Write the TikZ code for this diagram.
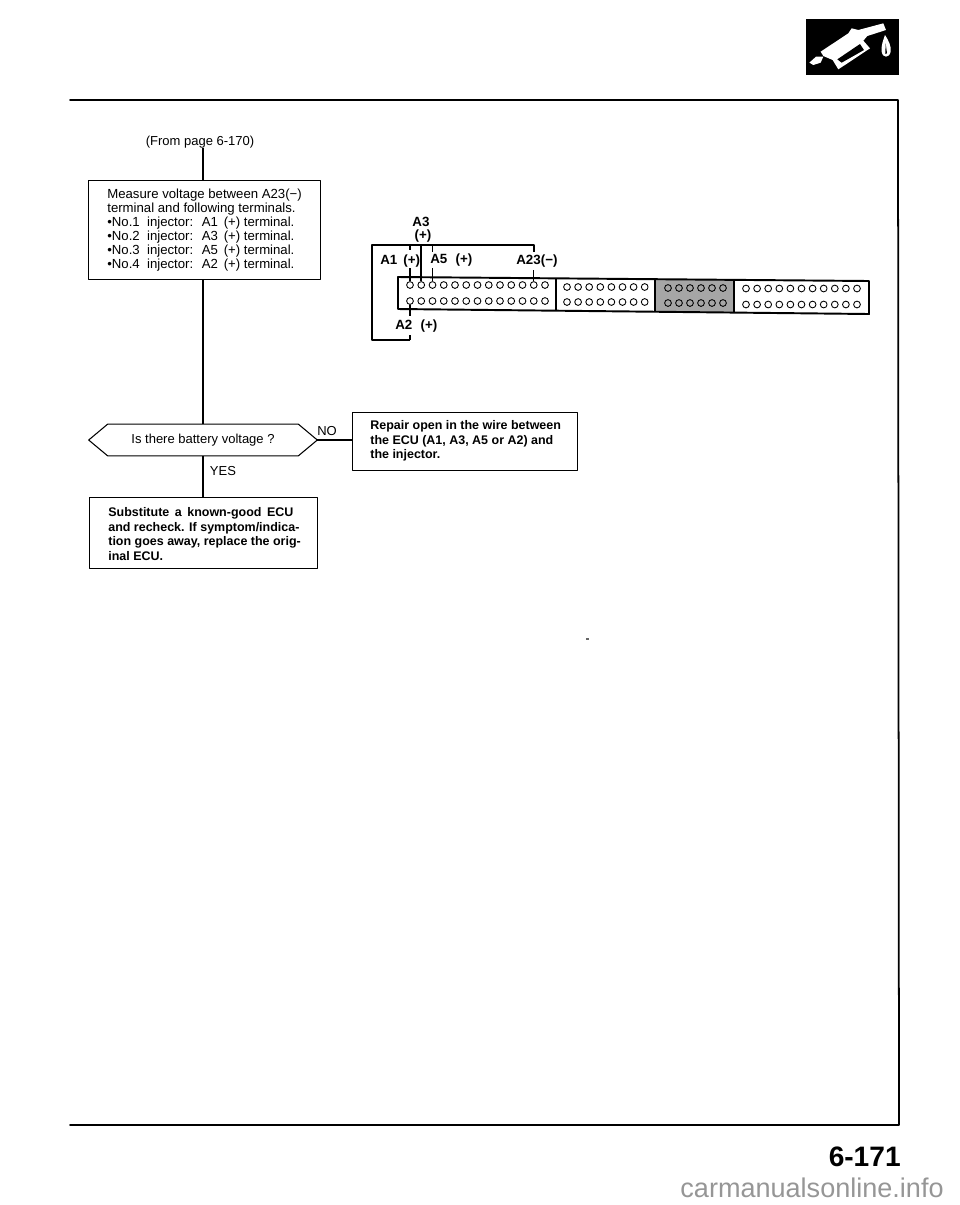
\documentclass[tikz,border=0pt]{standalone}
\usepackage{fontspec}
\setmainfont{Liberation Sans}
\usetikzlibrary{calc}
\definecolor{markgrey}{RGB}{150,150,150}
\tikzset{
 rule/.style={line width=1pt,line cap=round},
 wire/.style={line width=.6pt},
 stepbox/.style={draw,line width=.6pt,align=left,anchor=north west,inner sep=0pt},
 boldtext/.style={align=left,anchor=west,inner sep=0pt,font=\fontsize{7.1}{8.2}\selectfont\bfseries},
 hole/.style={draw,line width=.5pt,circle,inner sep=0pt,minimum size=.135cm},
 pinlabel/.style={font=\fontsize{7.6}{9}\selectfont\bfseries,inner sep=0pt},
 flowlabel/.style={font=\fontsize{7.4}{9}\selectfont,inner sep=0pt}
}
\begin{document}
\begin{tikzpicture}[x=.02cm,y=-.02cm,line join=round]
 \useasboundingbox (0,0) rectangle (960,1205);
 % page frame
 \coordinate (framea) at (70,100);
 \coordinate (frameb) at (898,100);
 \coordinate (framec) at (899,1125);
 \coordinate (framed) at (70,1125);
 \draw[rule] (framea)--(frameb)--(framec)--(framed);
 % pump symbol
 \fill (806,19) rectangle (899,75);
 \begin{scope}[shift={(780,0)},x=.00667cm,y=-.00667cm]
  \fill[white] (88,188)--(108,170)--(130,170)--(122,188)--(100,195)--cycle;
  \fill[white] (122,155)--(205,100)--(215,85)--(235,90)--(310,70)--(318,90)--(262,108)
   --(250,122)--(270,145)--(175,208)--(158,180)--(130,168)--cycle;
  \fill (172,178)--(240,132)--(252,150)--(185,188)--cycle;
  \fill[white] (315,105)..controls (325,120) and (335,140) .. (332,155)
   ..controls (328,175) and (308,175) .. (305,155)
   ..controls (303,135) and (310,120) .. (315,105)--cycle;
  \fill (317,130)--(321,160)--(316,162)--cycle;
 \end{scope}
 % flow chart
 \node[flowlabel] (frompage) at (200,142) {(From page 6-170)};
 \node[stepbox,minimum width=4.64cm,minimum height=1.98cm] (measure) at (88,180) {};
 \node[font=\fontsize{7.5}{8}\selectfont,align=left,anchor=west,inner sep=0pt] (measuretext) at (107,230)
  {Measure voltage between A23(−)\\terminal and following terminals.\\
   •No.1 \ injector: \ A1 \,(+) terminal.\\•No.2 \ injector: \ A3 \,(+) terminal.\\
   •No.3 \ injector: \ A5 \,(+) terminal.\\•No.4 \ injector: \ A2 \,(+) terminal.};
 \node[minimum width=4.56cm,minimum height=.62cm,inner sep=0pt,flowlabel] (decision) at (203,440)
  {Is there battery voltage ?};
 \draw[wire] (decision.west)--($(decision.north west)+(19,0)$)
  --($(decision.north east)+(-19,0)$)--(decision.east)
  --($(decision.south east)+(-19,0)$)--($(decision.south west)+(19,0)$)--cycle;
 \node[stepbox,minimum width=4.5cm,minimum height=1.16cm] (repair) at (352,412) {};
 \node[boldtext] (repairtext) at (370,441)
  {Repair open in the wire between\\the ECU (A1, A3, A5 or A2) and\\the injector.};
 \node[stepbox,minimum width=4.56cm,minimum height=1.42cm] (substitute) at (89,497) {};
 \node[boldtext,font=\fontsize{7.1}{8.4}\selectfont\bfseries] (substitutetext) at (108,534)
  {Substitute \,a \,known-good \,ECU\\and recheck. If symptom/indica-\\tion goes away, replace the orig-\\inal ECU.};
 \draw[wire] (frompage.south-|decision.north)--(measure.north-|decision.north);
 \draw[wire] (measure.south-|decision.north)--(decision.north);
 \draw[wire] (decision.east)--(repair.west|-decision.east);
 \draw[wire] (decision.south)--(substitute.north-|decision.south);
 \node[flowlabel] (nolabel) at (327,431) {NO};
 \node[flowlabel] (yeslabel) at (223,471) {YES};
 % connector body
 \coordinate (bodytl) at (398,277);
 \coordinate (bodytr) at (869,281);
 \coordinate (bodybr) at (869,314);
 \coordinate (bodybl) at (398,309);
 \fill[black!35] (655,279) rectangle (734,312);
 \draw[line width=1.1pt] (bodytl)--(bodytr)--(bodybr)--(bodybl)--cycle;
 \draw[line width=1.1pt] (556,279)--(556,311);
 \draw[line width=1.1pt] (655,279)--(655,312);
 \draw[line width=1.1pt] (734,280)--(734,313);
 \foreach \n in {0,...,12}{
  \node[hole] (upper\n) at (410+11.25*\n,285) {};
  \node[hole] (lower\n) at (410+11.25*\n,301) {};
 }
 \foreach \n in {0,...,7}{
  \node[hole] at (567+11.1*\n,287) {};
  \node[hole] at (567+11.1*\n,302) {};
 }
 \foreach \n in {0,...,5}{
  \node[hole] at (668+11*\n,288) {};
  \node[hole] at (668+11*\n,303) {};
 }
 \foreach \n in {0,...,10}{
  \node[hole] at (746+11.1*\n,288.5) {};
  \node[hole] at (746+11.1*\n,304.5) {};
 }
 % lead frame and pins
 \coordinate (leada) at (372,245);
 \coordinate (leadb) at (372,340);
 \coordinate (leadc) at (410,340);
 \coordinate (leadd) at (534,245);
 \draw[line width=1pt] (leadc)--(leadb)--(leada)--(leadd)--(leadd|-0,252);
 \draw[wire] (upper0|-0,245)--(upper0|-0,250);
 \draw[wire] (upper0|-0,268)--(upper0.north);
 \draw[line width=1pt] (upper1|-0,245)--(upper1.north);
 \draw[wire] (upper2|-0,245)--(upper2|-0,252);
 \draw[wire] (upper2|-0,268)--(upper2.north);
 \draw[wire] (upper11|-0,270)--(upper11.north);
 \draw[wire] (lower0.south)--(lower0|-0,316);
 \draw[wire] (lower0|-0,335)--(leadc);
 \node[pinlabel] (plusthree) at (423,236) {(+)};
 \node[pinlabel] (athree) at (421,222) {A3};
 \node[pinlabel,anchor=west] (aone) at (380,261) {A1 \,(+)};
 \node[pinlabel,anchor=west] (afive) at (430,260) {A5 \,\,(+)};
 \node[pinlabel,anchor=west] (atwentythree) at (516,261) {A23(−)};
 \node[pinlabel,anchor=west] (atwo) at (395,326) {A2 \,\,(+)};
 % speck and page number
 \fill[black!60] (586,638) rectangle (589,640);
 \node[font=\fontsize{16}{18}\selectfont\bfseries,inner sep=0pt,anchor=east] (pagenumber) at (901,1157) {6-171};
 \node[font=\fontsize{15.4}{18}\selectfont,text=markgrey,inner sep=0pt,anchor=east] (sitemark) at (944,1188) {carmanualsonline.info};
\end{tikzpicture}
\end{document}
